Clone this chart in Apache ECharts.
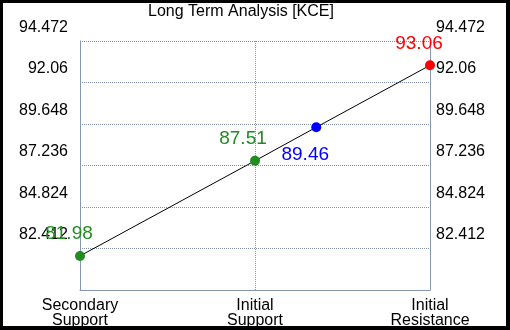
<!DOCTYPE html>
<html>
<head>
<meta charset="utf-8">
<script src="https://cdn.jsdelivr.net/npm/echarts@6/dist/echarts.min.js"></script>
<style>
html, body { margin: 0; padding: 0; background: #000; }
#chart { position: absolute; left: 3px; top: 3px; width: 503px; height: 323px; background: #fff; }
</style>
</head>
<body>
<div id="chart"></div>
<script>
// data
const categories = ['Secondary\nSupport', 'Initial\nSupport', 'Initial\nResistance'];
const pointX = [0, 1, 1.35, 2];
const pointValues = [81.98, 87.51, 89.46, 93.06];
const yMin = 80;
const yMax = 94.472;
const yStep = 2.412;

// styles
const pointColors = ['#228B22', '#228B22', '#0000FF', '#FF0000'];
const labelOffsets = [[-11, -22], [-12, -22], [-11, 28], [-11, -22]];

const font = 'Liberation Sans, Arial, sans-serif';
const gridColor = '#7f91ad';
const axisColor = '#8497b4';

let myChart = echarts.init(document.getElementById('chart'));

let seriesData = pointValues.map(function (v, i) {
  return {
    value: [pointX[i], v],
    itemStyle: { color: pointColors[i] },
    label: {
      show: true,
      position: 'inside',
      offset: labelOffsets[i],
      color: pointColors[i],
      fontSize: 19,
      fontFamily: font,
      formatter: String(v)
    }
  };
});

function yLabel(v) {
  return String(parseFloat(v.toFixed(3)));
}

// y labels sit above their grid line
const yLabelStyle = {
  showMinLabel: false,
  showMaxLabel: true,
  hideOverlap: false,
  color: '#000',
  fontSize: 16,
  fontFamily: font,
  lineHeight: 27,
  verticalAlign: 'bottom',
  formatter: yLabel
};

myChart.setOption({
  animation: false,
  title: {
    text: 'Long Term Analysis [KCE]',
    left: 233,
    textAlign: 'center',
    top: -4,
    textStyle: { fontSize: 16, fontWeight: 'normal', color: '#000', fontFamily: font }
  },
  grid: { left: 77, top: 38, width: 350, height: 249, containLabel: false, outerBoundsMode: 'none' },
  xAxis: {
    type: 'value',
    min: 0,
    max: 2,
    interval: 1,
    axisLine: { show: true, lineStyle: { color: axisColor, width: 1 } },
    axisTick: { show: false },
    splitLine: { show: true, lineStyle: { color: gridColor, type: 'dotted', width: 1 } },
    axisLabel: {
      color: '#000',
      fontSize: 16,
      fontFamily: font,
      lineHeight: 15,
      margin: 8,
      hideOverlap: false,
      formatter: function (v) { return categories[Math.round(v)]; }
    }
  },
  yAxis: [
    {
      type: 'value',
      position: 'left',
      min: yMin,
      max: yMax,
      interval: yStep,
      axisLine: { show: true, lineStyle: { color: axisColor, width: 1 } },
      axisTick: { show: false },
      splitLine: { show: true, lineStyle: { color: gridColor, type: 'dotted', width: 1 } },
      axisLabel: Object.assign({ margin: 12 }, yLabelStyle)
    },
    {
      type: 'value',
      position: 'right',
      min: yMin,
      max: yMax,
      interval: yStep,
      axisLine: { show: true, lineStyle: { color: axisColor, width: 1 } },
      axisTick: { show: false },
      splitLine: { show: false },
      axisLabel: Object.assign({ margin: 6 }, yLabelStyle)
    }
  ],
  series: [{
    type: 'line',
    data: seriesData,
    symbol: 'circle',
    symbolSize: 10,
    lineStyle: { color: '#000', width: 1 },
    z: 3
  }]
});
</script>
</body>
</html>
